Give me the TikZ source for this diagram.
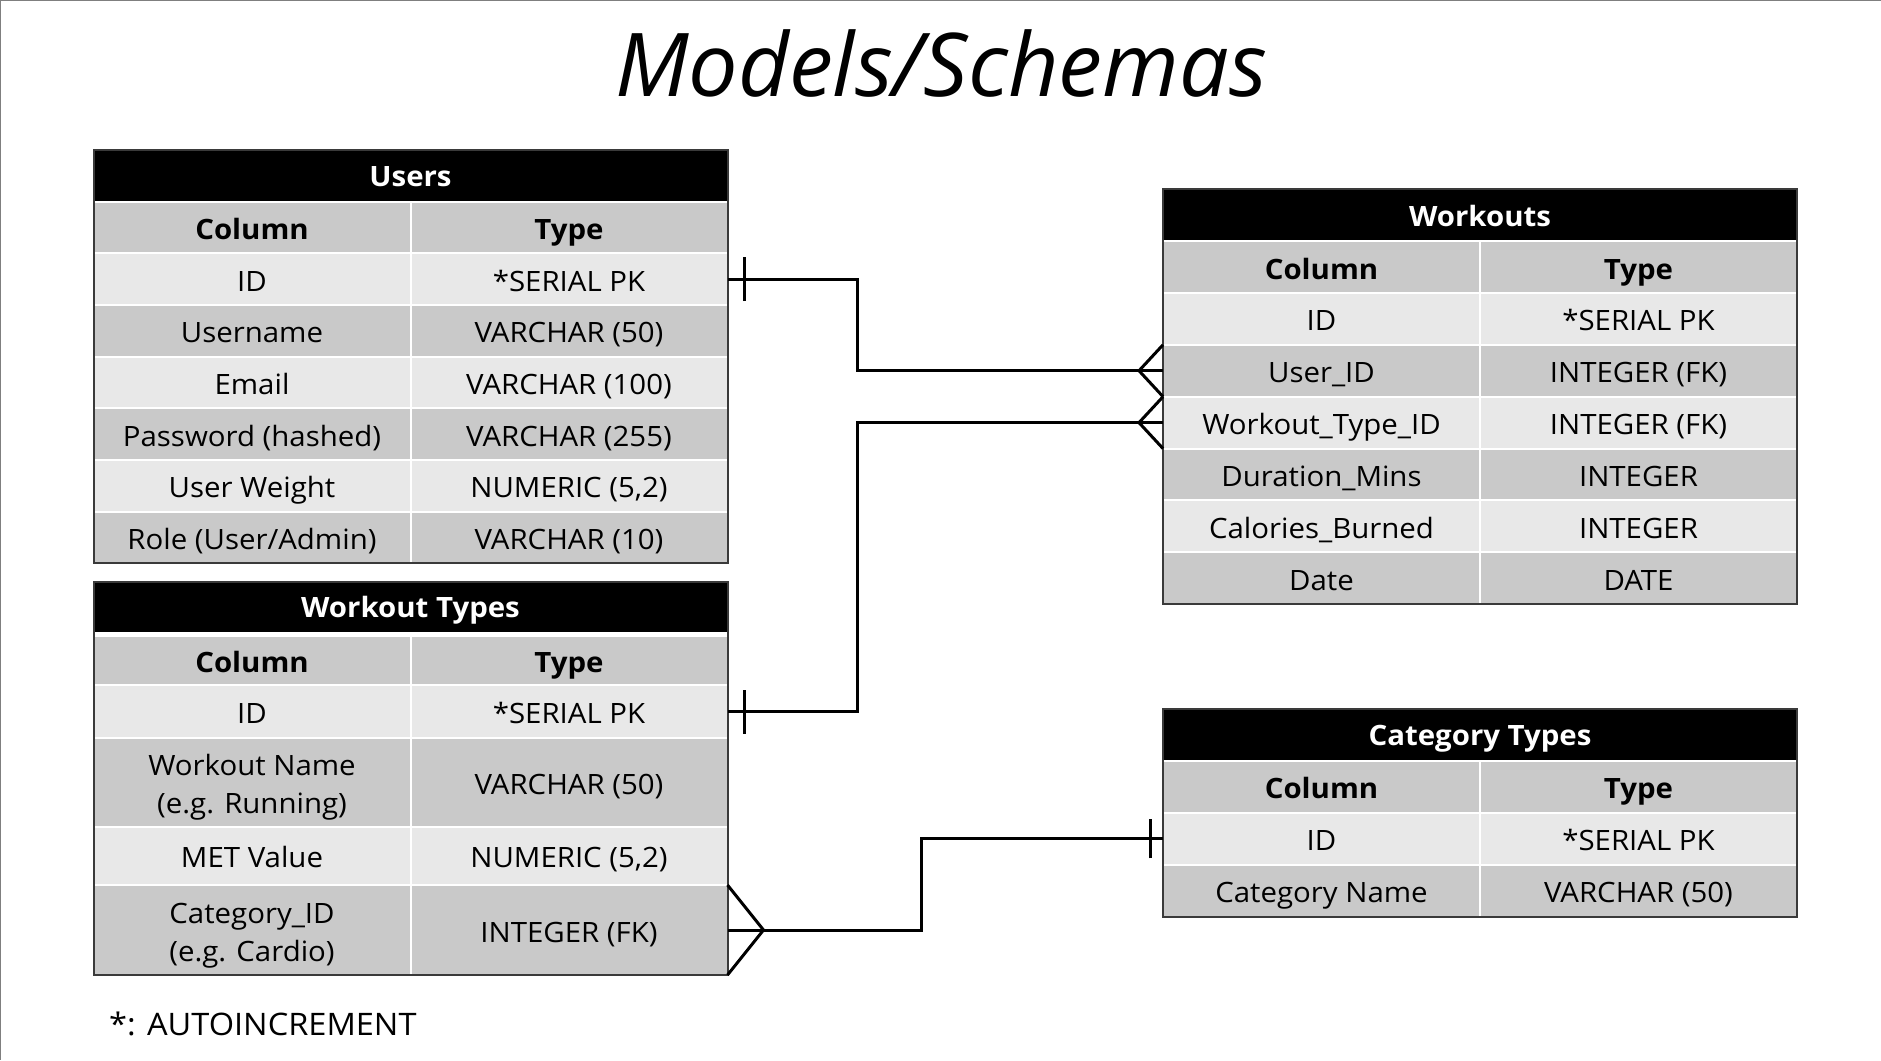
\documentclass[tikz,border=0pt]{standalone}
\usepackage{fontspec}
\setmainfont{Open Sans}[FakeStretch=1.05]
\newfontfamily\titlefont{Open Sans}
\usetikzlibrary{calc}
\definecolor{rowdark}{HTML}{C9C9C9}
\definecolor{rowlight}{HTML}{E8E8E8}
\definecolor{frame}{HTML}{3A3A3A}
\definecolor{pageline}{HTML}{7F7F7F}
\newcommand\tstrut{\rule{0pt}{31pt}}
\tikzset{
 cellbox/.style={rectangle, draw=white, line width=2pt, inner sep=0pt, outer sep=0pt, anchor=north west, minimum width=317pt, align=center, font=\fontsize{28}{38}\selectfont, text=black},
 oneline/.style={text height=27pt, text depth=3pt},
 titlebox/.style={rectangle, fill=black, inner sep=0pt, outer sep=0pt, anchor=north west, minimum width=634pt, text=white, font=\fontsize{28}{30}\selectfont\bfseries, text height=25pt, text depth=3pt},
 headbox/.style={cellbox, oneline, fill=rowdark, font=\fontsize{28}{30}\selectfont\bfseries},
 tframe/.style={draw=frame, line width=2pt},
 conn/.style={line width=3pt, draw=black},
}
\newcommand\erow[7]{%
 \node[cellbox, oneline, fill=#5, minimum height=#4pt] (#1c) at (#2,#3) {#6};
 \node[cellbox, oneline, fill=#5, minimum height=#4pt] (#1t) at ({#2+317},#3) {#7};}
\newcommand\erowtwo[7]{%
 \node[cellbox, fill=#5, minimum height=#4pt] (#1c) at (#2,#3) {#6};
 \node[cellbox, oneline, fill=#5, minimum height=#4pt] (#1t) at ({#2+317},#3) {#7};}
\begin{document}
\begin{tikzpicture}[x=1pt,y=-1pt]
\useasboundingbox (0,0) rectangle (1881,1060);
\fill[white] (0,0) rectangle (1881,1060);
\draw[pageline, line width=2pt] (0,1060) -- (0,0) -- (1881,0);

\node[anchor=base, font=\titlefont\fontsize{88}{100}\selectfont\itshape] (maintitle) at (941,96) {Models/Schemas};

% Users
\node[titlebox, minimum height=51.66pt] (Ut) at (93.5,150) {Users};
\node[headbox, minimum height=51.66pt] (Uhc) at (93.5,201.66) {Column};
\node[headbox, minimum height=51.66pt] (Uht) at (410.5,201.66) {Type};
\erow{U1}{93.5}{253.3}{51.66}{rowlight}{ID}{*SERIAL PK}
\erow{U2}{93.5}{305.0}{51.66}{rowdark}{Username}{VARCHAR (50)}
\erow{U3}{93.5}{356.6}{51.66}{rowlight}{Email}{VARCHAR (100)}
\erow{U4}{93.5}{408.3}{51.66}{rowdark}{Password (hashed)}{VARCHAR (255)}
\erow{U5}{93.5}{460.0}{51.66}{rowlight}{User Weight}{NUMERIC (5,2)}
\erow{U6}{93.5}{511.6}{51.66}{rowdark}{Role (User/Admin)}{VARCHAR (10)}
\draw[tframe] (Ut.north west) rectangle (U6t.south east);

% Workout Types
\node[titlebox, minimum height=50.5pt] (WTt) at (93.5,581.7) {Workout Types};
\node[headbox, minimum height=48.8pt] (WThc) at (93.5,636.2) {Column};
\node[headbox, minimum height=48.8pt] (WTht) at (410.5,636.2) {Type};
\erow{WT1}{93.5}{685}{53}{rowlight}{ID}{*SERIAL PK}
\erowtwo{WT2}{93.5}{738}{88.7}{rowdark}{\tstrut Workout Name\\(e.g. Running)}{VARCHAR (50)}
\erow{WT3}{93.5}{826.7}{58.3}{rowlight}{MET Value}{NUMERIC (5,2)}
\erowtwo{WT4}{93.5}{885}{90}{rowdark}{\tstrut Category\_ID\\(e.g. Cardio)}{INTEGER (FK)}
\draw[tframe] (WTt.north west) rectangle (WT4t.south east);

% Workouts
\node[titlebox, minimum height=51.84pt] (Wt) at (1163,189.3) {Workouts};
\node[headbox, minimum height=51.84pt] (Whc) at (1163,241.1) {Column};
\node[headbox, minimum height=51.84pt] (Wht) at (1480,241.1) {Type};
\erow{W1}{1163}{293.0}{51.84}{rowlight}{ID}{*SERIAL PK}
\erow{W2}{1163}{344.8}{51.84}{rowdark}{User\_ID}{INTEGER (FK)}
\erow{W3}{1163}{396.7}{51.84}{rowlight}{Workout\_Type\_ID}{INTEGER (FK)}
\erow{W4}{1163}{448.5}{51.84}{rowdark}{Duration\_Mins}{INTEGER}
\erow{W5}{1163}{500.3}{51.84}{rowlight}{Calories\_Burned}{INTEGER}
\erow{W6}{1163}{552.2}{51.84}{rowdark}{Date}{DATE}
\draw[tframe] (Wt.north west) rectangle (W6t.south east);

% Category Types
\node[titlebox, minimum height=51.9pt] (Ct) at (1163,709) {Category Types};
\node[headbox, minimum height=51.9pt] (Chc) at (1163,760.9) {Column};
\node[headbox, minimum height=51.9pt] (Cht) at (1480,760.9) {Type};
\erow{C1}{1163}{812.8}{51.9}{rowlight}{ID}{*SERIAL PK}
\erow{C2}{1163}{864.7}{51.9}{rowdark}{Category Name}{VARCHAR (50)}
\draw[tframe] (Ct.north west) rectangle (C2t.south east);

\node[anchor=base west, font=\fontsize{31}{34}\selectfont, inner sep=0pt] (footnote) at (109,1035) {*: AUTOINCREMENT};

% Connectors
\draw[conn] (U1t.east) -- ++(130,0) |- (W2c.west);
\draw[conn] ([xshift=17pt,yshift=-22pt]U1t.east) -- ([xshift=17pt,yshift=22pt]U1t.east);
\draw[conn] (W2c.north west) -- ([xshift=-24pt]W2c.west) -- (W2c.south west);

\draw[conn] (WT1t.east) -- ++(130,0) |- (W3c.west);
\draw[conn] ([xshift=17pt,yshift=-22pt]WT1t.east) -- ([xshift=17pt,yshift=22pt]WT1t.east);
\draw[conn] (W3c.north west) -- ([xshift=-24pt]W3c.west) -- (W3c.south west);

\draw[conn] (WT4t.east) -- ++(194,0) |- (C1c.west);
\draw[conn] (WT4t.north east) -- ([xshift=36pt]WT4t.east) -- (WT4t.south east);
\draw[conn] ([xshift=-13pt,yshift=-19.5pt]C1c.west) -- ([xshift=-13pt,yshift=19.5pt]C1c.west);
\end{tikzpicture}
\end{document}
